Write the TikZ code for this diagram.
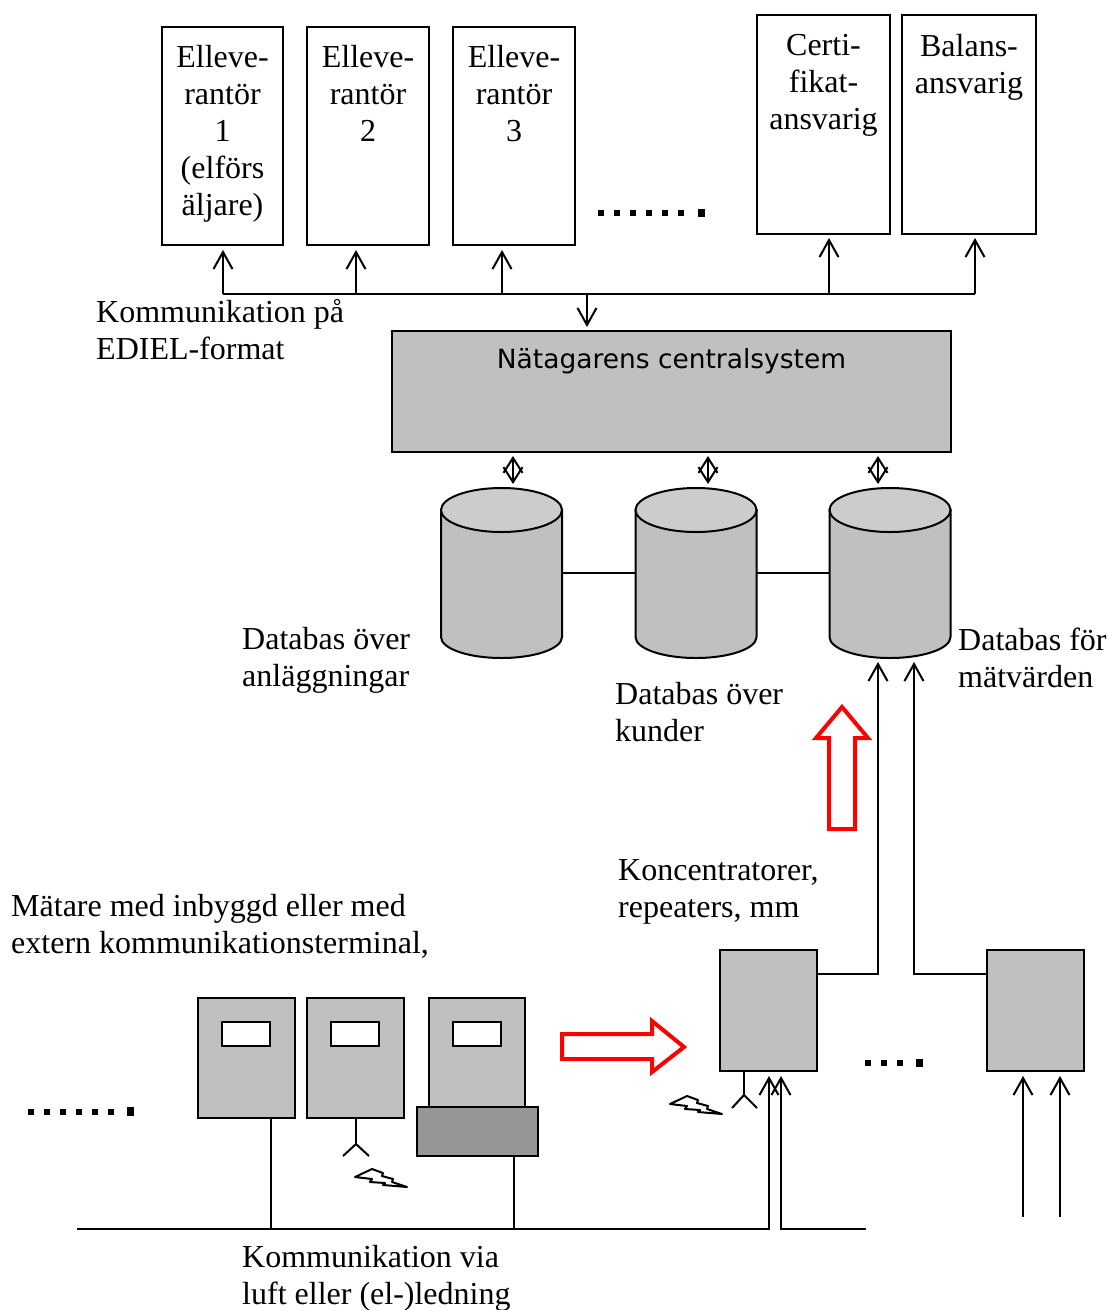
\documentclass[tikz,border=0pt]{standalone}
\usepackage{fontspec}
\setmainfont{Liberation Serif}
\newfontfamily\labelsans{DejaVu Sans}
\usetikzlibrary{arrows.meta}
\definecolor{boxgray}{HTML}{C0C0C0}
\definecolor{topgray}{HTML}{CCCCCC}
\definecolor{basegray}{HTML}{969696}
\tikzset{
  line/.style={line width=2pt},
  openarrow/.style={line, -{Straight Barb[length=17pt,width=19pt,line width=2pt]}},
  twoway/.style={line, {Straight Barb[length=15pt,width=19pt,line width=2pt]}-{Straight Barb[length=15pt,width=19pt,line width=2pt]}},
  txt/.style={font=\fontsize{32}{37}\selectfont, align=left, inner sep=0pt, anchor=north west},
  boxtxt/.style={font=\fontsize{32}{37}\selectfont, align=center, inner sep=0pt, anchor=north},
  whitebox/.style={draw, line, fill=white, inner sep=0pt, outer sep=0pt},
  graybox/.style={draw, line, fill=boxgray, inner sep=0pt, outer sep=0pt},
  meter/.style={graybox, minimum width=97pt, minimum height=121pt},
  display/.style={whitebox, minimum width=48pt, minimum height=24pt},
  database/.style={inner sep=0pt, outer sep=0pt, minimum width=121pt, minimum height=170pt},
  redarrow/.style={draw=red, line width=4pt, miter limit=10},
  bolt/.pic={
    \draw[line, fill=white, line join=round] (0,0) -- (17,-8) -- (28,-4) -- (27,-1) -- (38,2) -- (37,5) -- (52,10)
      -- (28,8) -- (30,6) -- (15,5) -- (17,2) -- cycle;
  }
}
\begin{document}
\begin{tikzpicture}[x=1pt,y=-1pt]
  \useasboundingbox (0,0) rectangle (1109,1310);
  % top row
  \node[whitebox, minimum width=121pt, minimum height=218pt] (el1) at (222.5,136) {};
  \node[whitebox, minimum width=122pt, minimum height=218pt] (el2) at (368,136) {};
  \node[whitebox, minimum width=122pt, minimum height=218pt] (el3) at (514,136) {};
  \node[whitebox, minimum width=133pt, minimum height=219pt] (cert) at (823.5,124.5) {};
  \node[whitebox, minimum width=134pt, minimum height=219pt] (bal) at (969,124.5) {};
  \node[boxtxt] (el1txt) at (222.5,45.5) {Elleve-\\rantör\\1\\(elförs\\äljare)};
  \node[boxtxt] (el2txt) at (368,45.5) {Elleve-\\rantör\\2};
  \node[boxtxt] (el3txt) at (514,45.5) {Elleve-\\rantör\\3};
  \node[boxtxt] (certtxt) at (823.5,34) {Certi-\\fikat-\\ansvarig};
  \node[boxtxt] (baltxt) at (969,34) {Balans-\\ansvarig};
  \foreach \x in {601,617,633,649,665,681} \fill (\x-3,210) rectangle (\x+3,216);
  \fill (697.5,209) rectangle (704.5,217);
  % central system
  \node[graybox, minimum width=559pt, minimum height=121pt] (central) at (671.5,391.5) {};
  \node[font=\labelsans\fontsize{26.45}{30}\selectfont, inner sep=0pt, anchor=base] (centraltxt) at (671.5,368) {Nätagarens centralsystem};
  % bus
  \coordinate (busL) at (223,294);
  \coordinate (busR) at (975,294);
  \draw[line] (busL) -- (busR);
  \draw[openarrow] (busL) -- (223,250);
  \draw[openarrow] (356,294) -- (356,250);
  \draw[openarrow] (502,294) -- (502,250);
  \draw[openarrow] (829,294) -- (829,238);
  \draw[openarrow] (busR) -- (975,238);
  \draw[openarrow] (587,294) -- (587,327);
  \node[txt] (ediel) at (96,299) {Kommunikation på\\EDIEL-format};
  % databases
  \node[database] (db1) at (501.5,573) {};
  \node[database] (db2) at (696,573) {};
  \node[database] (db3) at (890,573) {};
  \draw[line] (db1) -- (db2);
  \draw[line] (db2) -- (db3);
  \foreach \db in {db1,db2,db3} {
    \draw[line, fill=boxgray] ([yshift=-22pt]\db.north west) -- ([yshift=21pt]\db.south west)
      arc[start angle=180, end angle=360, x radius=60.5pt, y radius=21pt] -- ([yshift=-22pt]\db.north east) -- cycle;
    \draw[line, fill=topgray] ([yshift=-22pt]\db.north) ellipse [x radius=60.5pt, y radius=22pt];
  }
  \draw[twoway] (513,456) -- (513,484);
  \draw[twoway] (708,456) -- (708,484);
  \draw[twoway] (878,456) -- (878,484);
  \node[txt] (db1txt) at (242,627.5) {Databas över\\anläggningar};
  \node[txt] (db2txt) at (615,682.5) {Databas över\\kunder};
  \node[txt] (db3txt) at (958,627.5) {Databas för\\mätvärden};
  % concentrators
  \node[meter] (conc1) at (768.5,1010.5) {};
  \node[meter] (conc2) at (1035.5,1010.5) {};
  \node[txt] (conctxt) at (618,859.5) {Koncentratorer,\\repeaters, mm};
  \draw[openarrow] (conc1.east |- 0,974) -| (878,662);
  \draw[openarrow] (conc2.west |- 0,974) -| (914,662);
  \draw[redarrow] (842,707) -- (868,738) -- (855,738) -- (855,829) -- (829,829) -- (829,738) -- (816,738) -- cycle;
  \draw[redarrow] (684,1047) -- (652,1021) -- (652,1034) -- (562,1034) -- (562,1059) -- (652,1059) -- (652,1072) -- cycle;
  \foreach \x in {868,884,900} \fill (\x-3,1060) rectangle (\x+3,1066);
  \fill (916,1059) rectangle (923,1067);
  % meters
  \node[txt] (metertxt) at (11,894.5) {Mätare med inbyggd eller med\\extern kommunikationsterminal,};
  \node[meter, minimum height=120pt] (m1) at (246.5,1058) {};
  \node[meter, minimum height=120pt] (m2) at (355.5,1058) {};
  \node[meter, minimum width=96pt, minimum height=110pt] (m3) at (477,1053) {};
  \node[graybox, fill=basegray, minimum width=121pt, minimum height=49pt] (m3base) at (477.5,1131.5) {};
  \node[display] (d1) at (246,1034) {};
  \node[display] (d2) at (355,1034) {};
  \node[display] (d3) at (477,1034) {};
  \foreach \x in {31,47,63,79,95,111} \fill (\x-3,1109) rectangle (\x+3,1115);
  \fill (127,1107) rectangle (134,1116);
  % antennas
  \coordinate (ant1) at (356,1144);
  \draw[line] (356,1118) -- (ant1);
  \draw[line] (343,1156) -- (ant1) -- (369,1156);
  \coordinate (ant2) at (744,1095);
  \draw[line] (conc1.south -| ant2) -- (ant2);
  \draw[line] (732,1108) -- (ant2) -- (757,1108);
  \pic at (355,1177) {bolt};
  \pic at (670,1104) {bolt};
  % wire and air link
  \coordinate (wireL) at (77,1229);
  \coordinate (wireR) at (866,1229);
  \draw[openarrow] (wireL) -- (769,1229) -- (769,1076);
  \draw[openarrow] (wireR) -- (781,1229) -- (781,1076);
  \draw[line] (271,1118) -- (271,1229);
  \draw[line] (514,1156) -- (514,1229);
  \draw[openarrow] (1023,1217) -- (1023,1076);
  \draw[openarrow] (1060,1217) -- (1060,1076);
  \node[txt] (wiretxt) at (242,1245) {Kommunikation via\\luft eller (el-)ledning};
\end{tikzpicture}
\end{document}
